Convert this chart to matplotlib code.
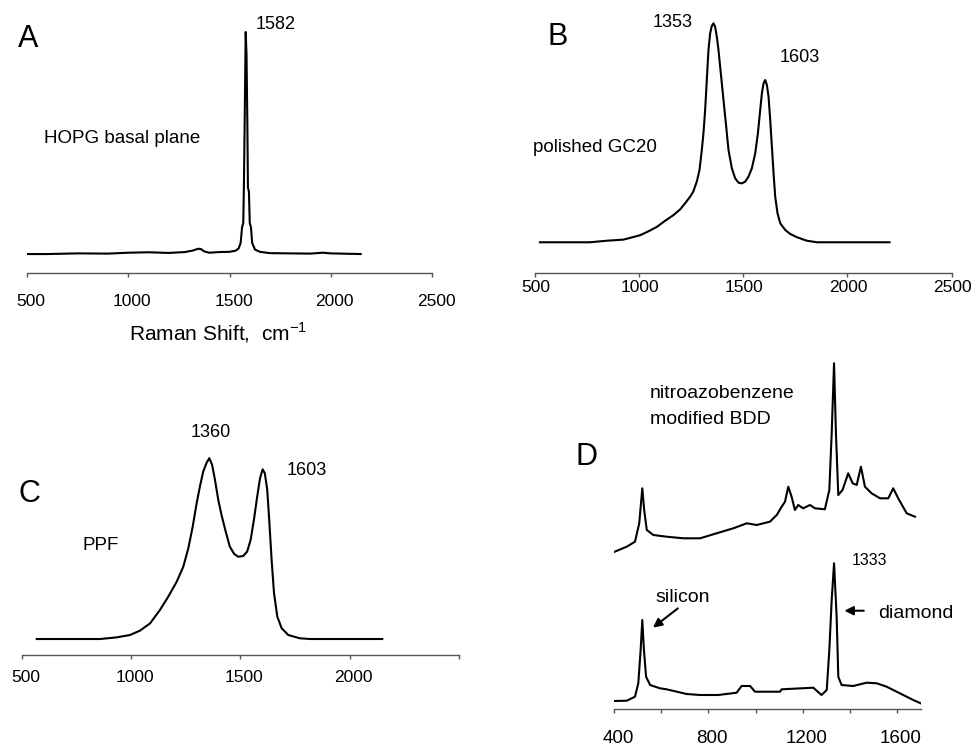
import matplotlib.pyplot as plt
from matplotlib.transforms import ScaledTranslation

plt.rcParams['font.family'] = ['Liberation Sans', 'DejaVu Sans']
plt.rcParams['mathtext.fontset'] = 'custom'
plt.rcParams['mathtext.rm'] = 'Liberation Sans'

# A - HOPG basal plane
hopg_x = [446, 600, 750, 900, 1000, 1100, 1200, 1280, 1320, 1345, 1360, 1375, 1400, 1450,
          1500, 1530, 1545, 1555, 1562, 1568, 1571, 1575, 1580, 1584, 1588, 1591, 1596,
          1600, 1606, 1612, 1626, 1650, 1700, 1800, 1900, 1960, 2000, 2148]
hopg_y = [0, 0, 0.3, 0.2, 0.6, 0.8, 0.5, 0.9, 1.6, 2.4, 2.2, 1.2, 0.6, 0.9,
          1.0, 1.5, 2.5, 5, 12, 14, 30, 60, 100, 90, 60, 30, 28,
          14, 12, 5, 2, 1, 0.4, 0.3, 0.2, 0.6, 0.3, 0]

# B - polished GC20
gc_x = [526, 766, 846, 926, 974, 1006, 1046, 1086, 1126, 1166, 1198, 1222, 1246, 1261,
        1278, 1291, 1302, 1310, 1318, 1326, 1334, 1342, 1350, 1358, 1366, 1374, 1382,
        1390, 1398, 1406, 1419, 1430, 1446, 1462, 1478, 1494, 1510, 1526, 1542, 1558,
        1571, 1582, 1590, 1598, 1606, 1614, 1622, 1630, 1638, 1646, 1654, 1665, 1678,
        1702, 1726, 1758, 1806, 1854, 2202]
gc_y = [0, 0, 0.7, 1.2, 2.4, 3.2, 5, 7, 9.8, 12.4, 15, 17.8, 20.8, 23.1,
        27.7, 33, 42.1, 49.8, 60.4, 74.1, 87.8, 95.4, 98.8, 100, 98.4, 93.9, 87.8,
        80.2, 72.6, 65, 52.8, 42.1, 33.8, 29.2, 27.2, 26.9, 27.7, 30, 33.8, 40.6,
        49.8, 60.4, 68, 72.6, 74.1, 71.8, 66.5, 55.8, 43.7, 31.5, 20.8, 13.2, 8.7,
        5.6, 3.8, 2.3, 0.7, 0, 0]

# C - PPF
ppf_x = [569, 858, 934, 995, 1041, 1087, 1132, 1170, 1209, 1239, 1262, 1282, 1300, 1315,
         1330, 1346, 1358, 1371, 1384, 1399, 1414, 1433, 1452, 1472, 1490, 1513, 1531,
         1547, 1562, 1577, 1590, 1602, 1612, 1623, 1632, 1643, 1654, 1669, 1689, 1719,
         1772, 1819, 2149]
ppf_y = [0, 0, 0.9, 2.2, 4.6, 8.6, 15.9, 23.2, 31.5, 39.7, 49.8, 61.7, 74.5, 83.7,
         91.9, 96.9, 99.3, 95.6, 87.4, 76.4, 68.1, 59, 50.7, 46.7, 45.2, 45.6, 48,
         54.4, 65.4, 78.2, 88.3, 93.2, 91, 81.9, 65.4, 43.4, 25.1, 12.3, 5.9, 2.2,
         0.4, 0, 0]

# D - BDD, bare (lower) and nitroazobenzene modified (upper)
bdd_x = [400, 454, 489, 503, 513, 520, 527, 536, 553, 595, 623, 666, 708, 765, 842,
         920, 941, 977, 998, 1104, 1111, 1245, 1280, 1302, 1313, 1323, 1333, 1344,
         1351, 1365, 1414, 1471, 1514, 1556, 1612, 1669, 1700]
bdd_y = [0, 0.3, 4.3, 17.7, 51, 81, 51, 24.3, 16, 12.7, 11.7, 9.3, 7, 6, 6,
         8.3, 15, 15, 9.3, 9.3, 11.7, 13.3, 6, 11, 51, 101, 137.7, 84.3,
         24.3, 16, 15, 18.3, 17.7, 14.3, 7.7, 1, -2.3]

nab_x = [400, 454, 489, 507, 520, 528, 539, 567, 623, 694, 765, 835, 906, 963, 1005,
         1061, 1090, 1111, 1125, 1139, 1153, 1167, 1181, 1202, 1231, 1252, 1294, 1313,
         1323, 1333, 1341, 1351, 1369, 1393, 1412, 1429, 1447, 1464, 1492, 1528, 1563,
         1584, 1605, 1641, 1676]
nab_y = [0, 5.3, 10.3, 28.7, 63.7, 42, 22, 17, 15.3, 13.7, 13.7, 18.7, 23.7, 28.7, 27,
         30.3, 37, 45.3, 50.3, 65.3, 55.3, 42, 47, 43.7, 47, 43.7, 42.7, 62,
         118.7, 188.7, 118.7, 57, 62, 78.7, 68.7, 67, 85.3, 65.3, 58.7, 53.7, 53.7,
         63.7, 53.7, 38.7, 35.3]
nab_offset = 149

W, H = 973, 749
fig = plt.figure(figsize=(W / 100, H / 100), dpi=100)


def px_axes(left, right, top, bottom):
    return fig.add_axes([left / W, 1 - bottom / H, (right - left) / W, (bottom - top) / H])


def px_text(x, y, s, size, **kw):
    fig.text(x / W, 1 - y / H, s, fontsize=size, va='baseline', **kw)


def style(ax, ticks, labels, pad, size, shift_px=4):
    for side in ['left', 'top', 'right']:
        ax.spines[side].set_visible(False)
    ax.spines['bottom'].set_color('#555555')
    ax.spines['bottom'].set_linewidth(1.0)
    ax.set_yticks([])
    ax.set_xticks(ticks)
    ax.set_xticklabels(labels)
    ax.tick_params(axis='x', direction='out', length=3, width=1, color='#555555',
                   pad=pad, labelsize=size)
    # labels sit a few pixels right of their ticks in the original
    shift = ScaledTranslation(shift_px / 100, 0, fig.dpi_scale_trans)
    for lab in ax.get_xticklabels():
        lab.set_transform(lab.get_transform() + shift)
    ax.patch.set_alpha(0)


lw = 1.5

axA = px_axes(27, 432, 20, 272.7)
axA.plot(hopg_x, hopg_y, color='k', lw=lw)
axA.set_xlim(500, 2500)
axA.set_ylim(-8.4, 105.4)
style(axA, [500, 1000, 1500, 2000, 2500], ['500', '1000', '1500', '2000', '2500'], 12, 12.5)

axB = px_axes(534.5, 951.7, 15, 272.7)
axB.plot(gc_x, gc_y, color='k', lw=lw)
axB.set_xlim(500, 2500)
axB.set_ylim(-13.9, 103.8)
style(axB, [500, 1000, 1500, 2000, 2500], ['500', '1000', '1500', '2000', '2500'], 2.5, 12.5,
      shift_px=1)

axC = px_axes(21.7, 459, 440, 654.5)
axC.plot(ppf_x, ppf_y, color='k', lw=lw)
axC.set_xlim(500, 2500)
axC.set_ylim(-8.5, 109.3)
style(axC, [500, 1000, 1500, 2000, 2500], ['500', '1000', '1500', '2000', ''], 8.5, 12.5)

axD = px_axes(614, 920.6, 355, 709)
axD.plot(bdd_x, bdd_y, color='k', lw=lw)
axD.plot(nab_x, [v + nab_offset for v in nab_y], color='k', lw=lw)
axD.set_xlim(400, 1700)
axD.set_ylim(-8, 346)
style(axD, [400, 600, 800, 1000, 1200, 1400, 1600],
      ['400', '', '800', '', '1200', '', '1600'], 12, 13.5)
axD.annotate('', xy=(556, 71.7), xytext=(680, 94.3),
             arrowprops=dict(arrowstyle='-|>', color='k', lw=1.5, mutation_scale=13))
axD.annotate('', xy=(1365, 90.3), xytext=(1471, 90.3),
             arrowprops=dict(arrowstyle='-|>', color='k', lw=1.5, mutation_scale=13))

# panel letters and labels
px_text(18, 47, 'A', 22)
px_text(256, 29, '1582', 13)
px_text(44, 143, 'HOPG basal plane', 13.5)
px_text(218, 340, r'Raman Shift,  cm$^{\mathregular{-1}}$', 15, ha='center')

px_text(547, 45, 'B', 22)
px_text(653, 27.3, '1353', 13)
px_text(780, 61.7, '1603', 13)
px_text(533, 151.7, 'polished GC20', 13.5)

px_text(18, 501.5, 'C', 22)
px_text(191, 437.3, '1360', 13)
px_text(287, 475, '1603', 13)
px_text(83, 550, 'PPF', 13.5)

px_text(575, 465, 'D', 22)
px_text(650, 398.3, 'nitroazobenzene', 14)
px_text(650, 424, 'modified BDD', 14)
px_text(852, 565, '1333', 11.5)
px_text(655, 601.7, 'silicon', 14)
px_text(878, 618.3, 'diamond', 14)

fig.savefig('out.png', dpi=100)
